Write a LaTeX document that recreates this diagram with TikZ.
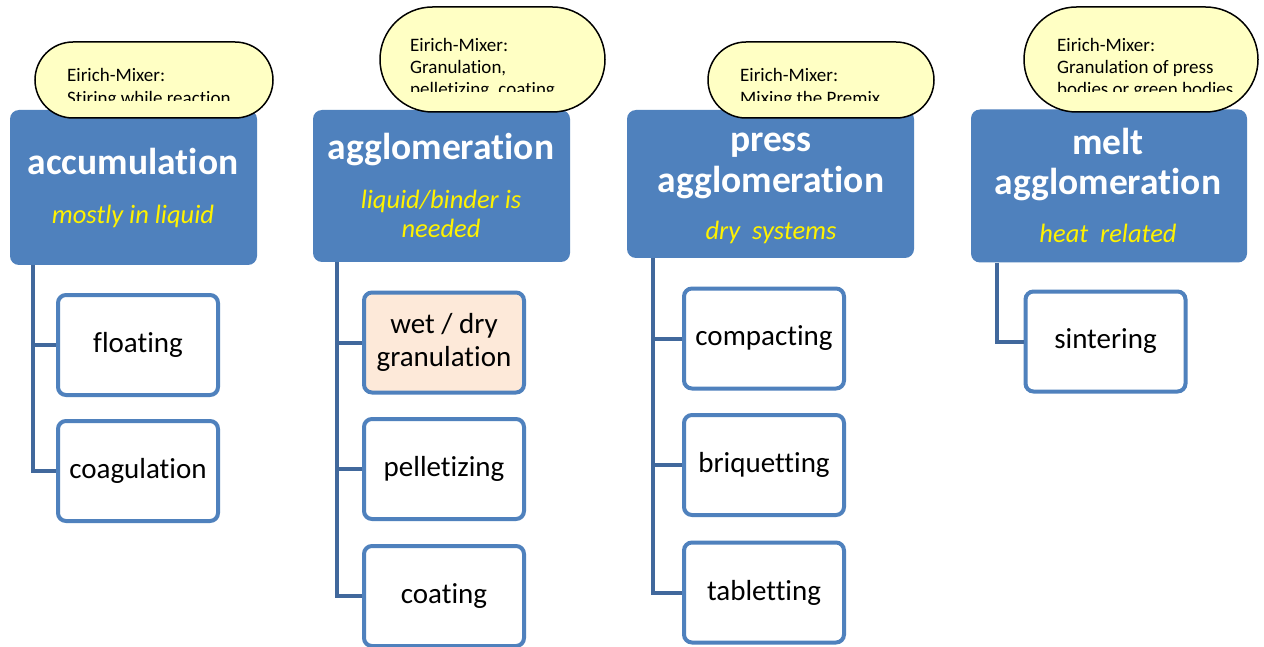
\documentclass[tikz,border=0pt]{standalone}
\usepackage{fontspec}
\setmainfont{Carlito}[Ligatures=NoCommon]
\usepackage{tikz}
\usetikzlibrary{shapes.misc}
\usepackage{xcolor}
\definecolor{hdblue}{HTML}{4F81BD}
\definecolor{lnblue}{HTML}{41689C}
\definecolor{noteyel}{HTML}{FFFFC4}
\definecolor{peach}{HTML}{FDE9D9}

\begin{document}
\begin{tikzpicture}[x=1pt,y=-1pt,
  header/.style={fill=hdblue,rounded corners=9pt,inner sep=0pt},
  title/.style={text=white,font=\fontsize{37.5}{40}\selectfont\bfseries,anchor=base,inner sep=0pt},
  subtitle/.style={text=yellow,font=\fontsize{26.5}{28}\selectfont\itshape,anchor=base,inner sep=0pt},
  note/.style={rounded rectangle,draw=black,line width=1.5pt,fill=noteyel,inner sep=0pt},
  notetext/.style={font=\fontsize{19}{22}\selectfont,anchor=base west,inner sep=0pt},
  item/.style={draw=hdblue,line width=4pt,rounded corners=8pt,fill=white,minimum width=160pt,minimum height=100pt,inner sep=0pt,align=center,font=\fontsize{29}{33}\selectfont},
  link/.style={draw=lnblue,line width=4pt}]
\fill[white] (0,0) rectangle (1264,647);
\useasboundingbox (0,0) rectangle (1264,647);

% column headers
\node[header,minimum width=247pt,minimum height=155pt] (hdA) at (133.5,187.5) {};
\node[header,minimum width=257pt,minimum height=152pt] (hdB) at (441.5,186) {};
\node[header,minimum width=287pt,minimum height=148pt] (hdC) at (770.5,184) {};
\node[header,minimum width=276pt,minimum height=153pt] (hdD) at (1109,186) {};

\node[title] (ttlA) at (133,175) {accumulation};
\node[subtitle] (subA) at (133,224) {mostly in liquid};
\node[title] (ttlB) at (441,160) {agglomeration};
\node[subtitle] (subB1) at (441,209) {liquid/binder is};
\node[subtitle] (subB2) at (441,237) {needed};
\node[title] (ttlC1) at (771,152) {press};
\node[title] (ttlC2) at (771,193) {agglomeration};
\node[subtitle] (subC) at (771,240) {dry\ \ systems};
\node[title] (ttlD1) at (1108,155) {melt};
\node[title] (ttlD2) at (1108,195) {agglomeration};
\node[subtitle] (subD) at (1108,243) {heat\ \ related};

% mixer notes
\node[note,minimum width=238pt,minimum height=76pt] (cA) at (154,80) {};
\node[note,minimum width=225pt,minimum height=105pt] (cB) at (492.5,59.5) {};
\node[note,minimum width=226pt,minimum height=76pt] (cC) at (821,80) {};
\node[note,minimum width=234pt,minimum height=105pt] (cD) at (1141,59.5) {};

\begin{scope}
\clip (40,40) rectangle (270,101);
\node[notetext] (tA1) at (67,82) {Eirich-Mixer:};
\node[notetext] (tA2) at (67,105) {Stiring while reaction};
\end{scope}
\begin{scope}
\clip (385,5) rectangle (600,92);
\node[notetext] (tB1) at (410,52) {Eirich-Mixer:};
\node[notetext] (tB2) at (410,74) {Granulation,};
\node[notetext] (tB3) at (410,96) {pelletizing, coating};
\end{scope}
\begin{scope}
\clip (712,40) rectangle (930,101);
\node[notetext] (tC1) at (740,82) {Eirich-Mixer:};
\node[notetext] (tC2) at (740,105) {Mixing the Premix};
\end{scope}
\begin{scope}
\clip (1028,5) rectangle (1255,92);
\node[notetext] (tD1) at (1057,52) {Eirich-Mixer:};
\node[notetext] (tD2) at (1057,74) {Granulation of press};
\node[notetext] (tD3) at (1057,96) {bodies or green bodies};
\end{scope}

% sub-process boxes
\node[item] (fltA) at (138,345) {floating};
\node[item] (coaA) at (138,471) {coagulation};
\node[item,fill=peach] (wdB) at (444,342.5) {wet / dry\\granulation};
\node[item] (pelB) at (444,469) {pelletizing};
\node[item] (coaB) at (444,596) {coating};
\node[item] (cmpC) at (764,338.5) {compacting};
\node[item] (briC) at (764,465) {briquetting};
\node[item] (tabC) at (764,592.5) {tabletting};
\node[item] (sinD) at (1105.5,341.5) {sintering};

\draw[link] ([xshift=23pt]hdA.south west) |- (coaA.west) ([xshift=23pt]hdA.south west) |- (fltA.west);
\draw[link] ([xshift=24pt]hdB.south west) |- (coaB.west) ([xshift=24pt]hdB.south west) |- (pelB.west) ([xshift=24pt]hdB.south west) |- (wdB.west);
\draw[link] ([xshift=26pt]hdC.south west) |- (tabC.west) ([xshift=26pt]hdC.south west) |- (briC.west) ([xshift=26pt]hdC.south west) |- (cmpC.west);
\draw[link] ([xshift=26pt]hdD.south west) |- (sinD.west);
\end{tikzpicture}
\end{document}
